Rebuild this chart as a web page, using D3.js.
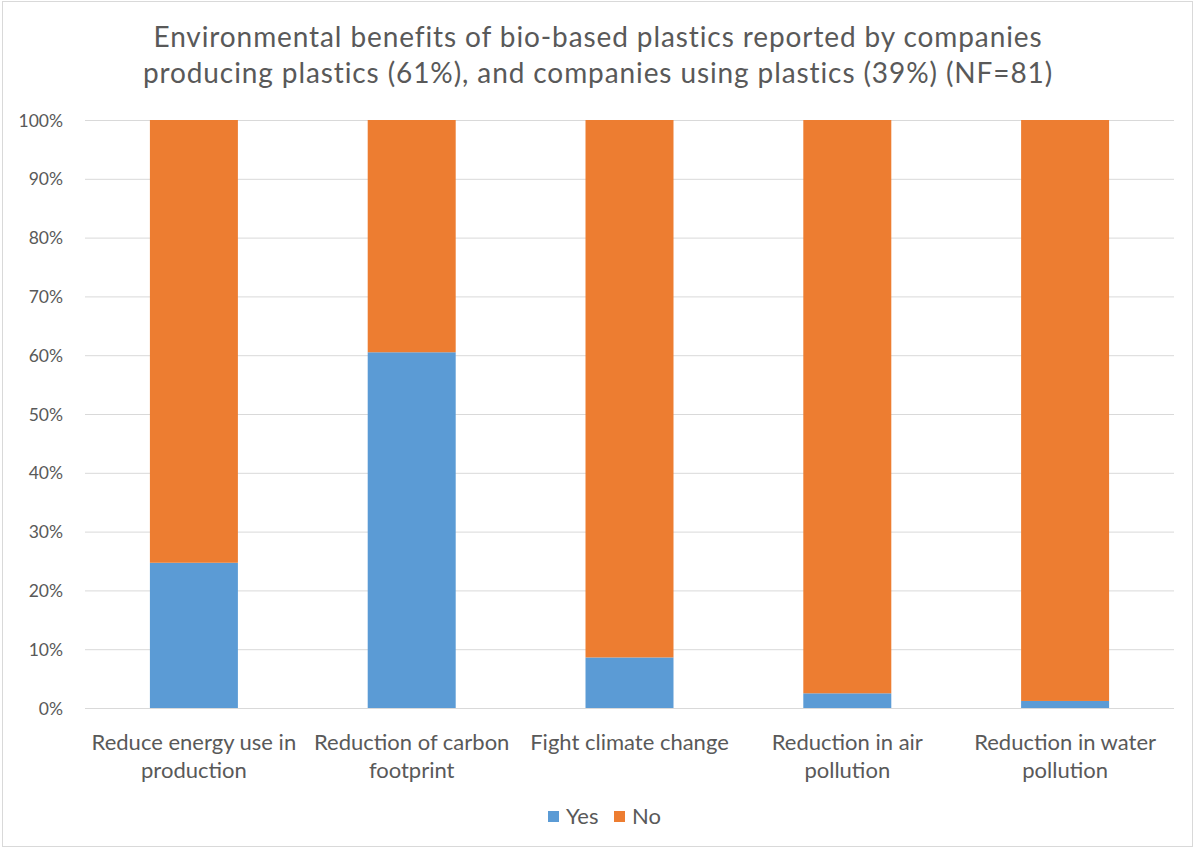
<!DOCTYPE html>
<html>
<head>
<meta charset="utf-8">
<script src="https://cdn.jsdelivr.net/npm/d3@7"></script>
<style>
  html, body { margin: 0; padding: 0; background: #fff; }
  svg { display: block; }
  text { font-family: Lato, "Open Sans", sans-serif; fill: #595959; }
</style>
</head>
<body>
<svg id="chart" width="1196" height="849"></svg>
<script>
// Survey answers (share of companies, %), NF = 81
const categories = [
  ["Reduce energy use in", "production"],
  ["Reduction of carbon", "footprint"],
  ["Fight climate change"],
  ["Reduction in air", "pollution"],
  ["Reduction in water", "pollution"]
];
const yesValues = [24.7, 60.5, 8.6, 2.5, 1.2];
const noValues  = [75.3, 39.5, 91.4, 97.5, 98.8];
const seriesNames = ["Yes", "No"];
const seriesColors = ["#5B9BD5", "#ED7D31"];
const yTicks = [0, 10, 20, 30, 40, 50, 60, 70, 80, 90, 100];
const titleLines = [
  "Environmental benefits of bio-based plastics reported by companies",
  "producing plastics (61%), and companies using plastics (39%) (NF=81)"
];

const svg = d3.select("#chart");
const W = 1196, H = 849;
const margin = { left: 85, right: 22, top: 120, bottom: 141 };

// outer chart frame
svg.append("rect")
  .attr("x", 2.5).attr("y", 1.5)
  .attr("width", W - 6).attr("height", H - 4)
  .attr("fill", "#fff").attr("stroke", "#d9d9d9").attr("stroke-width", 1);

const rows = categories.map((c, i) => ({ key: i, Yes: yesValues[i], No: noValues[i] }));

const x = d3.scaleBand()
  .domain(d3.range(categories.length))
  .range([margin.left, W - margin.right])
  .paddingInner(0.596)
  .paddingOuter(0.298);

const y = d3.scaleLinear()
  .domain([0, 100])
  .range([H - margin.bottom, margin.top]);

// gridlines
svg.append("g")
  .selectAll("line")
  .data(yTicks)
  .join("line")
  .attr("x1", margin.left).attr("x2", W - margin.right)
  .attr("y1", d => y(d) + 0.5).attr("y2", d => y(d) + 0.5)
  .attr("stroke", "#d9d9d9").attr("stroke-width", 1);

// y axis labels
const yAxis = d3.axisLeft(y).tickValues(yTicks).tickFormat(d => d + "%").tickSize(0).tickPadding(0);
const gy = svg.append("g").attr("transform", `translate(63,0)`).call(yAxis);
gy.select(".domain").remove();
gy.selectAll("text")
  .attr("font-family", "Lato, 'Open Sans', sans-serif")
  .attr("font-size", 17.5)
  .attr("fill", "#595959")
  .attr("dy", "0.35em");

// stacked bars
const stack = d3.stack().keys(seriesNames);
const layers = stack(rows);
svg.append("g")
  .selectAll("g")
  .data(layers)
  .join("g")
  .attr("fill", (d, i) => seriesColors[i])
  .selectAll("rect")
  .data(d => d)
  .join("rect")
  .attr("x", d => x(d.data.key))
  .attr("width", x.bandwidth())
  .attr("y", d => y(d[1]))
  .attr("height", d => y(d[0]) - y(d[1]));

// category labels
const gx = svg.append("g");
categories.forEach((lines, i) => {
  const cx = x(i) + x.bandwidth() / 2;
  const t = gx.append("text")
    .attr("x", cx)
    .attr("y", 750)
    .attr("text-anchor", "middle")
    .attr("font-size", 22);
  lines.forEach((ln, j) => {
    t.append("tspan").attr("x", cx).attr("dy", j === 0 ? 0 : 28).text(ln);
  });
});

// title
const title = svg.append("text")
  .attr("x", 598).attr("y", 47)
  .attr("text-anchor", "middle")
  .attr("font-size", 28)
  .attr("letter-spacing", 0.9);
titleLines.forEach((ln, j) => {
  title.append("tspan").attr("x", 598).attr("dy", j === 0 ? 0 : 36).text(ln);
});

// legend
const legend = svg.append("g");
const legendX = [548, 614];
seriesNames.forEach((name, i) => {
  legend.append("rect")
    .attr("x", legendX[i]).attr("y", 811)
    .attr("width", 11).attr("height", 11)
    .attr("fill", seriesColors[i]);
  legend.append("text")
    .attr("x", legendX[i] + 18).attr("y", 824)
    .attr("font-size", 22)
    .text(name);
});
</script>
</body>
</html>
